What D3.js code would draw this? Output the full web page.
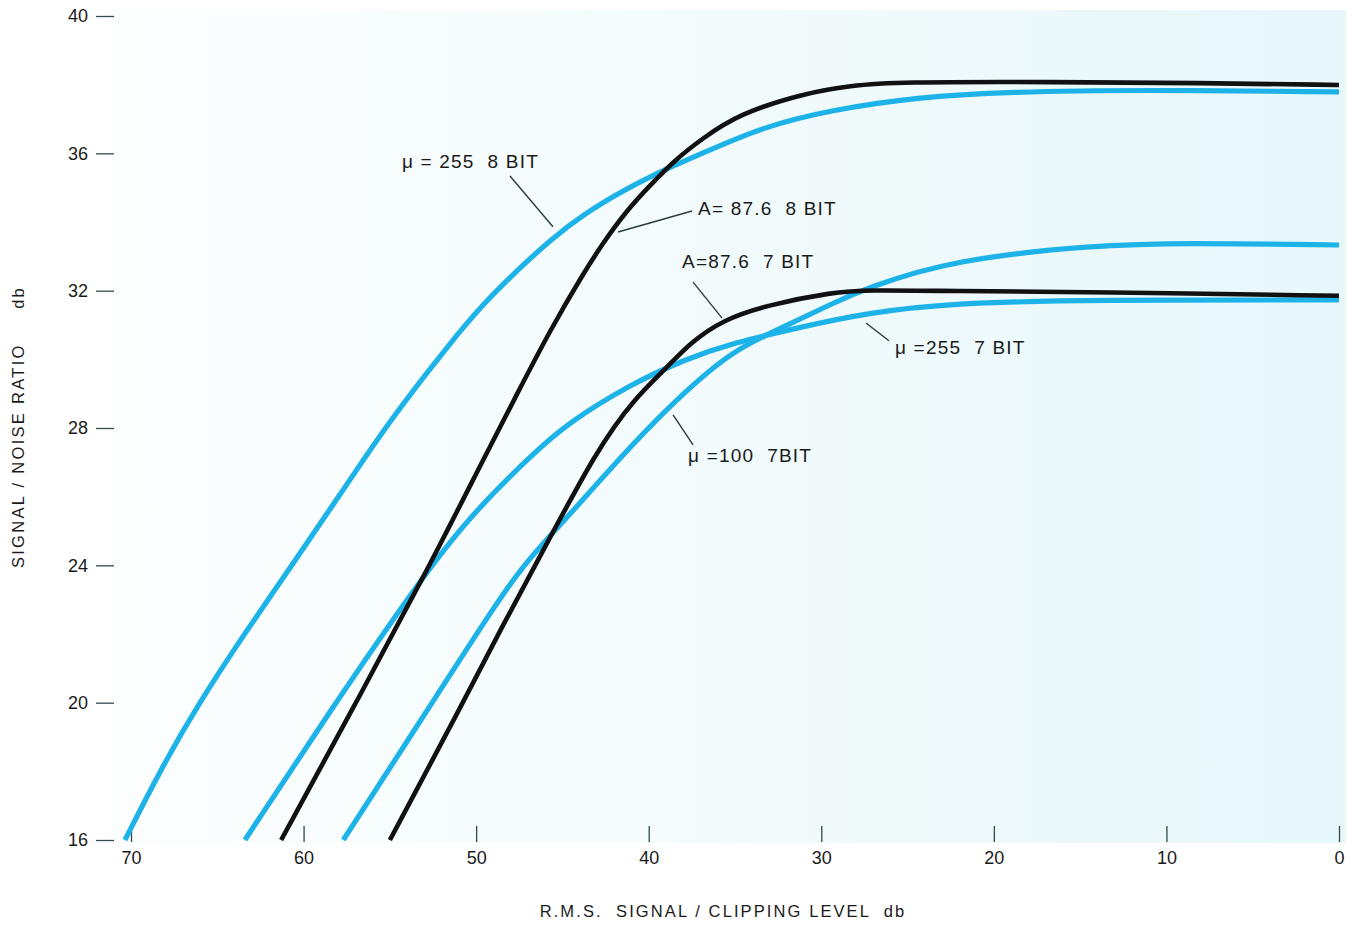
<!DOCTYPE html>
<html>
<head>
<meta charset="utf-8">
<script src="https://cdn.jsdelivr.net/npm/d3@7"></script>
<style>
  body { margin: 0; background: #fff; }
  svg text { font-family: "Liberation Sans", Arial, sans-serif; fill: #1a1a1a; }
</style>
</head>
<body>
<div id="chart"></div>
<script>
// x = rms signal / clipping level (db), y = signal / noise ratio (db)
var xTicks = [70, 60, 50, 40, 30, 20, 10, 0];
var yTicks = [40, 36, 32, 28, 24, 20, 16];

var mu255_8bit = [
  [70.35, 16.0], [68.3, 18.04], [66.1, 19.96], [63.4, 22.03], [60.7, 23.98],
  [57.9, 26.05], [55.0, 28.23], [51.5, 30.48], [49.6, 31.61], [47.6, 32.6],
  [45.7, 33.48], [43.8, 34.21], [41.8, 34.82], [39.9, 35.34], [37.0, 35.98],
  [33.4, 36.77], [29.5, 37.26], [24.4, 37.64], [19.2, 37.79], [11.5, 37.85], [0, 37.79]
];
var a876_8bit = [
  [61.3, 16.0], [57.0, 19.96], [52.7, 23.98], [49.6, 27.07], [47.6, 29.02],
  [45.7, 30.86], [43.8, 32.49], [42.65, 33.39], [41.3, 34.32], [39.9, 35.08],
  [38.4, 35.84], [37.0, 36.39], [34.8, 37.15], [30.9, 37.76], [28.3, 37.97],
  [25.7, 38.08], [16.6, 38.08], [8.0, 38.05], [0, 37.99]
];
var mu255_7bit = [
  [63.4, 16.0], [58.2, 19.96], [53.25, 23.57], [50.4, 25.41], [46.9, 27.16],
  [44.7, 28.15], [40.9, 29.31], [38.0, 29.98], [35.1, 30.48], [31.2, 30.94],
  [27.35, 31.35], [22.5, 31.64], [14.1, 31.73], [0, 31.73]
];
var mu100_7bit = [
  [57.7, 16.0], [52.6, 19.96], [48.6, 23.08], [47.0, 24.16], [44.7, 25.41],
  [40.9, 27.56], [38.0, 29.02], [35.1, 30.27], [32.2, 30.94], [29.3, 31.64],
  [27.35, 32.08], [22.5, 32.89], [14.1, 33.33], [8.9, 33.39], [0, 33.33]
];
var a876_7bit = [
  [55.0, 16.0], [50.8, 19.96], [48.6, 22.12], [46.1, 24.45], [43.0, 27.36],
  [40.9, 28.82], [38.9, 29.78], [37.6, 30.48], [35.7, 31.15], [33.15, 31.58],
  [29.3, 31.96], [27.35, 32.02], [22.5, 31.99], [14.1, 31.96], [0, 31.85]
];

var series = [
  {name: "mu255_8", data: mu255_8bit, color: "#1db3e9", w: 5.2},
  {name: "mu255_7", data: mu255_7bit, color: "#1db3e9", w: 5.2},
  {name: "mu100_7", data: mu100_7bit, color: "#1db3e9", w: 5.2},
  {name: "a876_8", data: a876_8bit, color: "#111111", w: 4.6},
  {name: "a876_7", data: a876_7bit, color: "#111111", w: 4.6}
];

// curve labels: text, left/centre position in data units, leader line ends
var labels = [
  {text: "\u03bc = 255  8 BIT", x: 54.3, y: 35.78, l: [[48.04, 35.34], [45.55, 33.86]]},
  {text: "A= 87.6  8 BIT",     x: 37.14, y: 34.41, l: [[37.49, 34.32], [41.78, 33.71]]},
  {text: "A=87.6  7 BIT",      x: 38.07, y: 32.84, l: [[37.43, 32.25], [35.75, 31.2]]},
  {text: "\u03bc =255  7 BIT", x: 25.73, y: 30.36, l: [[27.41, 31.06], [26.08, 30.54]]},
  {text: "\u03bc =100  7BIT",  x: 37.72, y: 27.21, l: [[38.59, 28.38], [37.43, 27.51]]}
];

var width = 1352, height = 925;
var x = d3.scaleLinear().domain([70, 0]).range([131, 1339]);
var y = d3.scaleLinear().domain([16, 40]).range([840, 16]);

var svg = d3.select("#chart").append("svg")
    .attr("width", width)
    .attr("height", height);

// faint tinted paper behind the plot
var defs = svg.append("defs");
var grad = defs.append("linearGradient").attr("id", "paper")
    .attr("x1", "0").attr("x2", "1").attr("y1", "0").attr("y2", "0");
grad.append("stop").attr("offset", "0").attr("stop-color", "#fcfefe");
grad.append("stop").attr("offset", "0.45").attr("stop-color", "#f3fbfc");
grad.append("stop").attr("offset", "1").attr("stop-color", "#e7f7fa");

svg.append("rect")
    .attr("x", 110).attr("y", 10)
    .attr("width", 1236).attr("height", 833)
    .attr("fill", "url(#paper)");

defs.append("clipPath").attr("id", "plot")
  .append("rect")
    .attr("x", 100).attr("y", 0)
    .attr("width", 1250).attr("height", y(16) + 1);

// y axis
var yAxis = svg.append("g")
    .attr("transform", "translate(114,0)")
    .call(d3.axisLeft(y).tickValues(yTicks).tickSize(18).tickPadding(8));
yAxis.select(".domain").remove();
yAxis.selectAll(".tick line").attr("stroke", "#2f4b4b").attr("stroke-width", 1.3);
yAxis.selectAll(".tick text")
    .style("font-size", "18px")
    .attr("fill", "#1a1a1a");

// x axis
var xAxis = svg.append("g")
    .attr("transform", "translate(0,842)")
    .call(d3.axisBottom(x).tickValues(xTicks).tickSize(-16).tickPadding(9));
xAxis.select(".domain").remove();
xAxis.selectAll(".tick line").attr("stroke", "#2f4b4b").attr("stroke-width", 1.3);
xAxis.selectAll(".tick text")
    .style("font-size", "18px")
    .attr("fill", "#1a1a1a");

// curves
var line = d3.line()
    .x(function(d) { return x(d[0]); })
    .y(function(d) { return y(d[1]); })
    .curve(d3.curveBasis);

svg.append("g").attr("clip-path", "url(#plot)")
  .selectAll("path")
    .data(series)
  .enter().append("path")
    .attr("d", function(d) { return line(d.data); })
    .attr("fill", "none")
    .attr("stroke", function(d) { return d.color; })
    .attr("stroke-width", function(d) { return d.w; })
    .attr("stroke-linecap", "butt");

// curve labels and leaders
var lab = svg.append("g");
lab.selectAll("line")
    .data(labels)
  .enter().append("line")
    .attr("x1", function(d) { return x(d.l[0][0]); })
    .attr("y1", function(d) { return y(d.l[0][1]); })
    .attr("x2", function(d) { return x(d.l[1][0]); })
    .attr("y2", function(d) { return y(d.l[1][1]); })
    .attr("stroke", "#2a3c3c")
    .attr("stroke-width", 1.4);
lab.selectAll("text")
    .data(labels)
  .enter().append("text")
    .attr("x", function(d) { return x(d.x); })
    .attr("y", function(d) { return y(d.y); })
    .attr("dy", "0.35em")
    .style("font-size", "19px")
    .style("letter-spacing", "1.2px")
    .attr("xml:space", "preserve")
    .text(function(d) { return d.text; });

// axis titles
svg.append("text")
    .attr("x", 723).attr("y", 911)
    .attr("dy", "0.35em")
    .attr("text-anchor", "middle")
    .style("font-size", "16.5px")
    .style("letter-spacing", "2.1px")
    .attr("xml:space", "preserve")
    .text("R.M.S.  SIGNAL / CLIPPING LEVEL  db");

svg.append("text")
    .attr("transform", "translate(18,427) rotate(-90)")
    .attr("dy", "0.35em")
    .attr("text-anchor", "middle")
    .style("font-size", "16.5px")
    .style("letter-spacing", "2.3px")
    .attr("xml:space", "preserve")
    .text("SIGNAL / NOISE RATIO     db");
</script>
</body>
</html>
